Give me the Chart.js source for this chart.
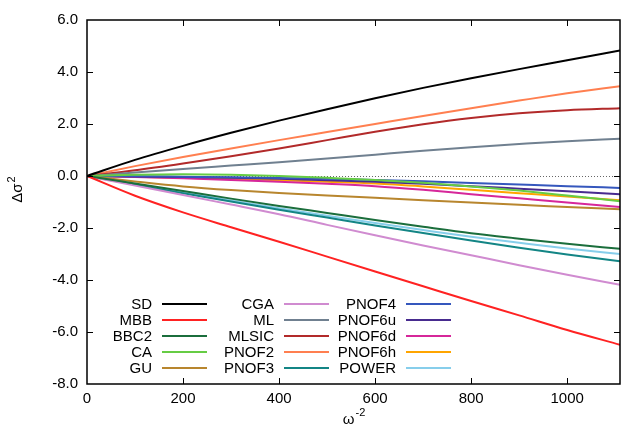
<!DOCTYPE html>
<html>
<head>
<meta charset="utf-8">
<script src="https://cdn.jsdelivr.net/npm/chart.js@4.4.0/dist/chart.umd.min.js"></script>
<style>
  html, body { margin: 0; padding: 0; background: #ffffff; }
  #wrap { width: 621px; height: 430px; }
</style>
</head>
<body>
<div id="wrap"><canvas id="chart" width="621" height="430"></canvas></div>
<script>
// x positions (omega^-2) where values were read
const omega = [0, 100, 200, 300, 400, 500, 600, 700, 800, 900, 1000, 1110];

// delta sigma^2 for each functional
const sd     = [0, 0.62, 1.16, 1.66, 2.13, 2.57, 2.99, 3.39, 3.76, 4.11, 4.45, 4.83];
const mbb    = [0, -0.76, -1.40, -1.97, -2.53, -3.10, -3.67, -4.24, -4.81, -5.36, -5.92, -6.49];
const bbc2   = [0, -0.29, -0.58, -0.87, -1.15, -1.42, -1.69, -1.95, -2.20, -2.41, -2.61, -2.80];
const ca     = [0, 0.05, 0.07, 0.05, 0.00, -0.07, -0.15, -0.26, -0.40, -0.56, -0.75, -0.97];
const gu     = [0, -0.21, -0.40, -0.54, -0.65, -0.75, -0.84, -0.93, -1.02, -1.11, -1.19, -1.28];
const cga    = [0, -0.37, -0.73, -1.10, -1.47, -1.88, -2.28, -2.67, -3.05, -3.43, -3.80, -4.18];
const ml     = [0, 0.13, 0.27, 0.40, 0.53, 0.67, 0.82, 0.97, 1.11, 1.23, 1.34, 1.43];
const mlsic  = [0, 0.22, 0.48, 0.76, 1.06, 1.38, 1.70, 1.99, 2.23, 2.41, 2.53, 2.61];
const pnof2  = [0, 0.38, 0.73, 1.06, 1.38, 1.69, 2.00, 2.31, 2.61, 2.90, 3.18, 3.45];
const pnof3  = [0, -0.33, -0.66, -0.98, -1.30, -1.60, -1.90, -2.19, -2.48, -2.76, -3.02, -3.28];
const pnof4  = [0, -0.01, -0.03, -0.05, -0.08, -0.11, -0.15, -0.20, -0.27, -0.33, -0.39, -0.46];
const pnof6u = [0, -0.02, -0.04, -0.07, -0.11, -0.16, -0.22, -0.30, -0.39, -0.49, -0.59, -0.70];
const pnof6d = [0, -0.04, -0.09, -0.15, -0.22, -0.30, -0.39, -0.53, -0.70, -0.86, -1.02, -1.19];
const pnof6h = [0, -0.03, -0.07, -0.11, -0.16, -0.22, -0.29, -0.40, -0.53, -0.66, -0.79, -0.93];
const power  = [0, -0.32, -0.63, -0.94, -1.24, -1.53, -1.81, -2.08, -2.34, -2.57, -2.79, -3.00];

const names = ['SD', 'MBB', 'BBC2', 'CA', 'GU', 'CGA', 'ML', 'MLSIC', 'PNOF2', 'PNOF3',
               'PNOF4', 'PNOF6u', 'PNOF6d', 'PNOF6h', 'POWER'];
const values = [sd, mbb, bbc2, ca, gu, cga, ml, mlsic, pnof2, pnof3,
                pnof4, pnof6u, pnof6d, pnof6h, power];

// axis ranges
const xMin = 0, xMax = 1110, xStep = 200;
const yMin = -8, yMax = 6, yStep = 2;

// line colours, same order as names
const colors = ['#000000', '#ff2222', '#1b6e3c', '#66cc44', '#b8862e', '#d08bd0', '#708090',
                '#b22a2a', '#ff7f50', '#138585', '#3557bd', '#482b8f', '#d6279a', '#ffa500', '#87ceeb'];

const FONT = '"Liberation Sans", Arial, Helvetica, sans-serif';

const datasets = names.map((name, i) => ({
    label: name,
    data: omega.map((x, j) => ({ x: x, y: values[i][j] })),
    borderColor: colors[i],
    backgroundColor: colors[i],
    borderWidth: 2,
    pointRadius: 0,
    fill: false,
    cubicInterpolationMode: 'monotone'
}));

// Frame, inward ticks, dotted zero line, legend and axis titles (gnuplot look)
const gnuplotLook = {
    id: 'gnuplotLook',
    beforeDatasetsDraw(chart) {
        const { ctx, chartArea: a, scales: { y } } = chart;
        const y0 = y.getPixelForValue(0);
        ctx.save();
        ctx.strokeStyle = '#666666';
        ctx.lineWidth = 1;
        ctx.setLineDash([1, 2]);
        ctx.beginPath();
        ctx.moveTo(a.left, y0 + 0.5);
        ctx.lineTo(a.right, y0 + 0.5);
        ctx.stroke();
        ctx.restore();
    },
    afterDatasetsDraw(chart) {
        const { ctx, chartArea: a, scales: { x, y } } = chart;
        ctx.save();
        ctx.strokeStyle = '#000000';
        ctx.lineWidth = 1.5;
        ctx.strokeRect(a.left, a.top, a.right - a.left, a.bottom - a.top);

        // inward ticks on all four sides
        const tl = 6;
        ctx.lineWidth = 1;
        ctx.beginPath();
        x.ticks.forEach(t => {
            const px = Math.round(x.getPixelForValue(t.value)) + 0.5;
            if (px <= a.left + 1 || px >= a.right - 1) return;
            ctx.moveTo(px, a.bottom); ctx.lineTo(px, a.bottom - tl);
            ctx.moveTo(px, a.top); ctx.lineTo(px, a.top + tl);
        });
        y.ticks.forEach(t => {
            const py = Math.round(y.getPixelForValue(t.value)) + 0.5;
            if (py <= a.top + 1 || py >= a.bottom - 1) return;
            ctx.moveTo(a.left, py); ctx.lineTo(a.left + tl, py);
            ctx.moveTo(a.right, py); ctx.lineTo(a.right - tl, py);
        });
        ctx.stroke();

        // legend: 3 columns of 5, text right-aligned then sample line
        ctx.font = '15px ' + FONT;
        ctx.textAlign = 'right';
        ctx.textBaseline = 'middle';
        const colX = [a.left + 65, a.left + 187, a.left + 309];
        const rowY0 = a.top + 284, rowH = 16;
        names.forEach((name, i) => {
            const col = Math.floor(i / 5), row = i % 5;
            const tx = colX[col], ty = rowY0 + row * rowH;
            ctx.fillStyle = '#000000';
            ctx.fillText(name, tx, ty + 1);
            ctx.strokeStyle = colors[i];
            ctx.lineWidth = 2;
            ctx.beginPath();
            ctx.moveTo(tx + 10, ty);
            ctx.lineTo(tx + 55, ty);
            ctx.stroke();
        });

        // axis titles
        ctx.fillStyle = '#000000';
        ctx.textAlign = 'left';
        ctx.textBaseline = 'alphabetic';
        const cx = (a.left + a.right) / 2;
        ctx.font = '15px ' + FONT;
        const wW = ctx.measureText('\u03c9').width;
        ctx.font = '11px ' + FONT;
        const sW = ctx.measureText('-2').width;
        const startX = cx - (wW + sW) / 2;
        ctx.font = '15px ' + FONT;
        ctx.fillText('\u03c9', startX, 424);
        ctx.font = '11px ' + FONT;
        ctx.fillText('-2', startX + wW + 1, 416);

        ctx.translate(22, 190);
        ctx.rotate(-Math.PI / 2);
        ctx.font = '15px ' + FONT;
        const dW = ctx.measureText('\u0394\u03c3').width;
        ctx.font = '11px ' + FONT;
        const s2W = ctx.measureText('2').width;
        const sx = -(dW + s2W) / 2;
        ctx.font = '15px ' + FONT;
        ctx.fillText('\u0394\u03c3', sx, 0);
        ctx.font = '11px ' + FONT;
        ctx.fillText('2', sx + dW + 1, -7);
        ctx.restore();
    }
};

new Chart(document.getElementById('chart'), {
    type: 'line',
    data: { datasets: datasets },
    options: {
        responsive: false,
        animation: false,
        devicePixelRatio: 1,
        layout: { padding: { left: 0, right: 1, top: 20, bottom: 0 } },
        plugins: { legend: { display: false }, tooltip: { enabled: false } },
        scales: {
            x: {
                type: 'linear',
                min: xMin,
                max: xMax,
                grid: { display: false, drawTicks: false },
                border: { display: false },
                ticks: {
                    stepSize: xStep,
                    includeBounds: false,
                    color: '#000000',
                    padding: 6,
                    maxRotation: 0,
                    font: { family: FONT, size: 15 },
                    callback: v => String(v)
                },
                afterFit(scale) { scale.height = 46; }
            },
            y: {
                type: 'linear',
                min: yMin,
                max: yMax,
                grid: { display: false, drawTicks: false },
                border: { display: false },
                ticks: {
                    stepSize: yStep,
                    color: '#000000',
                    padding: 9,
                    font: { family: FONT, size: 15 },
                    callback: v => v.toFixed(1)
                },
                afterFit(scale) { scale.width = 87; }
            }
        }
    },
    plugins: [gnuplotLook]
});
</script>
</body>
</html>
